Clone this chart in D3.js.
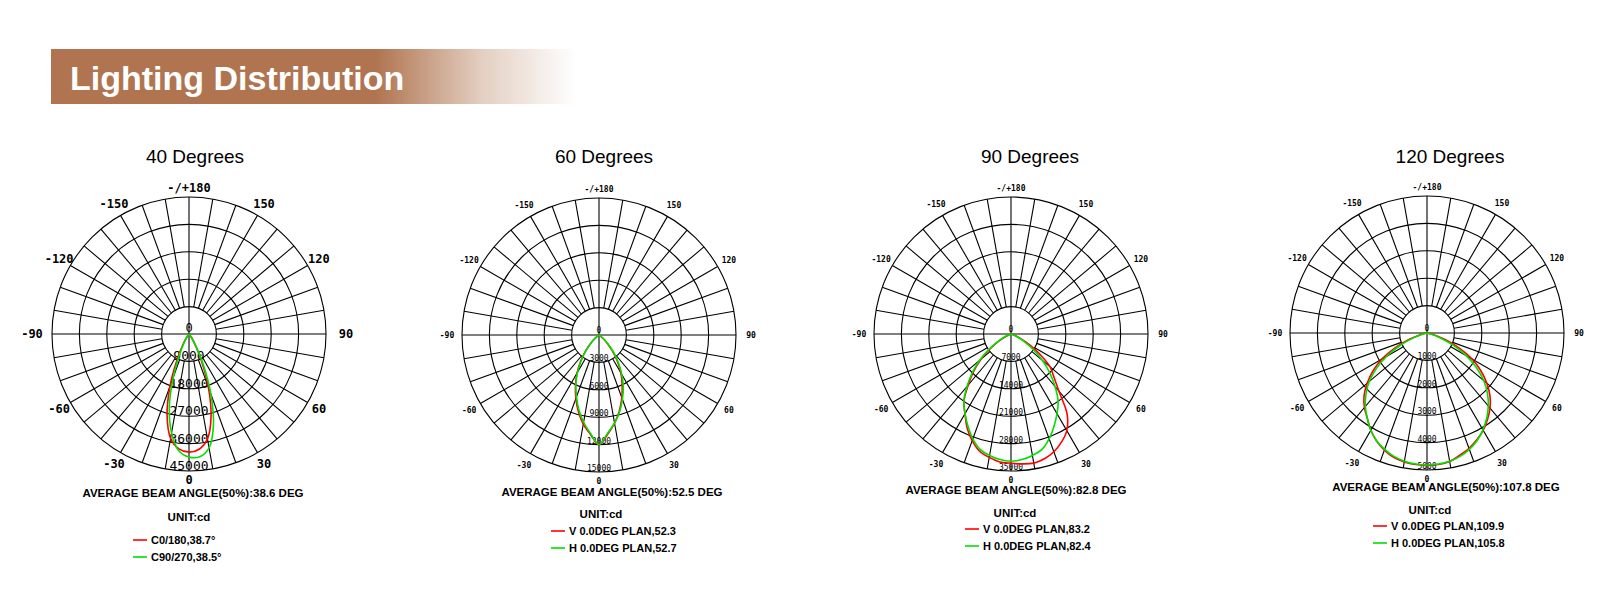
<!DOCTYPE html>
<html><head><meta charset="utf-8">
<script src="https://cdn.jsdelivr.net/npm/d3@7"></script>
<style>body{margin:0;background:#fff}svg{display:block}</style>
</head><body>
<svg id="c" width="1600" height="600"></svg>
<script>
// ---- data ----
const titles = ["40 Degrees","60 Degrees","90 Degrees","120 Degrees"];
const beamTexts = ["AVERAGE BEAM ANGLE(50%):38.6 DEG","AVERAGE BEAM ANGLE(50%):52.5 DEG","AVERAGE BEAM ANGLE(50%):82.8 DEG","AVERAGE BEAM ANGLE(50%):107.8 DEG"];
const redLabels = ["C0/180,38.7°","V 0.0DEG PLAN,52.3","V 0.0DEG PLAN,83.2","V 0.0DEG PLAN,109.9"];
const greenLabels = ["C90/270,38.5°","H 0.0DEG PLAN,52.7","H 0.0DEG PLAN,82.4","H 0.0DEG PLAN,105.8"];
const ringTicks = [
  [9000,18000,27000,36000,45000],
  [3000,6000,9000,12000,15000],
  [7000,14000,21000,28000,35000],
  [1000,2000,3000,4000,5000]
];
const angleTicks = [0,30,60,90,120,150,180,-150,-120,-90,-60,-30];
const angleTickText = ["0","30","60","90","120","150","-/+180","-150","-120","-90","-60","-30"];
const gammas = [-90,-85,-80,-75,-70,-65,-60,-55,-50,-45,-40,-35,-30,-25,-20,-15,-10,-5,0,5,10,15,20,25,30,35,40,45,50,55,60,65,70,75,80,85,90];
const red40   = [0,0,0,0,0,0,0,0,0,0,400,1300,3800,9200,18300,27800,34800,37900,38800,38000,35000,28000,18600,9600,4000,1400,400,0,0,0,0,0,0,0,0,0,0];
const green40 = [0,0,0,0,0,0,0,0,0,0,300,1000,3000,7000,15000,25000,33000,38500,40400,40500,38000,31000,21000,11000,4500,1500,400,0,0,0,0,0,0,0,0,0,0];
const red60   = [0,0,0,0,0,0,0,200,600,1300,2300,3500,4800,6100,7400,8700,9900,10900,12000,10900,9800,8600,7300,6000,4800,3500,2300,1300,600,200,0,0,0,0,0,0,0];
const green60 = [0,0,0,0,0,0,0,150,500,1200,2200,3400,4700,6000,7200,8500,9700,10800,12000,10800,9800,8700,7500,6300,5000,3700,2500,1400,600,200,0,0,0,0,0,0,0];
const red90   = [0,0,0,0,300,1500,3500,6500,10000,13500,17000,21000,23500,26500,29000,31000,32000,32800,33000,33300,33500,33000,32000,30500,28500,25000,19000,15500,13000,9000,5500,2500,800,0,0,0,0];
const green90 = [0,0,0,0,400,1700,4000,7000,10500,14000,17500,21000,23500,26000,28500,30500,31500,32200,32500,32200,31500,30500,28500,26000,23500,21000,17500,14000,10500,7000,4000,1700,400,0,0,0,0];
const red120  = [0,0,80,300,700,1300,1900,2400,2850,3250,3550,3800,4100,4350,4550,4700,4780,4820,4830,4820,4760,4620,4480,4300,4100,3850,3580,3250,2850,2400,1900,1300,700,300,80,0,0];
const green120= [0,0,50,200,550,1100,1700,2250,2750,3150,3500,3800,4100,4350,4520,4660,4750,4800,4820,4800,4750,4660,4520,4330,4080,3800,3480,3120,2700,2200,1650,1050,500,180,40,0,0];
const redSeries = [red40, red60, red90, red120];
const greenSeries = [green40, green60, green90, green120];

// ---- layout ----
const layout = [
  {cx:189, cy:334, tx:195, beamX:193, beamY:497, unitX:189, unitY:521, legX:133, legY:544, big:true},
  {cx:599, cy:335, tx:604, beamX:612, beamY:496, unitX:601, unitY:518, legX:551, legY:535, big:false},
  {cx:1011,cy:334, tx:1030,beamX:1016,beamY:494, unitX:1015,unitY:517, legX:965, legY:533, big:false},
  {cx:1427,cy:333, tx:1450,beamX:1446,beamY:491, unitX:1430,unitY:514, legX:1373,legY:530, big:false}
];
const R = 137;
const svg = d3.select("#c");

// header
const defs = svg.append("defs");
const grad = defs.append("linearGradient").attr("id","hg");
grad.append("stop").attr("offset","0.62").attr("stop-color","#b07550");
grad.append("stop").attr("offset","0.82").attr("stop-color","#b07550").attr("stop-opacity",0.35);
grad.append("stop").attr("offset","1").attr("stop-color","#b07550").attr("stop-opacity",0);
svg.append("rect").attr("x",51).attr("y",49).attr("width",525).attr("height",55).attr("fill","url(#hg)");
svg.append("text").attr("x",70).attr("y",90).attr("fill","#fff").attr("font-family","Liberation Sans, Arial, sans-serif")
  .attr("font-weight","bold").attr("font-size",34).text("Lighting Distribution");

const toRad = g => Math.PI - g*Math.PI/180;

layout.forEach((L,i)=>{
  const g = svg.append("g").attr("transform",`translate(${L.cx},${L.cy})`);
  const ticks = ringTicks[i];
  const r = d3.scaleLinear().domain([0, ticks[ticks.length-1]]).range([0,R]);
  const inner = r(ticks[0]);
  // rings
  g.selectAll("circle.ring").data(ticks).join("circle")
    .attr("r",d=>r(d)).attr("fill","none").attr("stroke","#000").attr("stroke-width",1.1);
  // spokes
  const spokes = d3.range(0,360,10);
  g.selectAll("line.sp").data(spokes).join("line")
    .attr("x1",d=>(d%90===0? 0 : inner)*Math.sin(d*Math.PI/180))
    .attr("y1",d=>-(d%90===0? 0 : inner)*Math.cos(d*Math.PI/180))
    .attr("x2",d=>R*Math.sin(d*Math.PI/180))
    .attr("y2",d=>-R*Math.cos(d*Math.PI/180))
    .attr("stroke","#000").attr("stroke-width",1.1);
  // angle labels
  const af = L.big ? 12 : 8;
  g.selectAll("text.ang").data(angleTicks).join("text")
    .attr("x",(d)=>(R+(Math.abs(d)===90? (L.big?20:15):13))*Math.sin(toRad(d)))
    .attr("y",(d)=>-(R+(d===0||d===180? 9:13))*Math.cos(toRad(d)) + af*0.35)
    .attr("text-anchor","middle").attr("font-family","DejaVu Sans Mono, monospace")
    .attr("font-weight","bold").attr("font-size",af).text((d,j)=>angleTickText[j]);
  // ring labels
  const rf = L.big ? 13 : 8;
  g.selectAll("text.rl").data([0].concat(ticks)).join("text")
    .attr("x",0).attr("y",d=>d===0? -2 : r(d)-1)
    .attr("text-anchor","middle").attr("font-family","DejaVu Sans Mono, monospace")
    .attr("font-size",d=>d===0? (L.big?12:8) : rf).text(d=>d);
  // curves
  const line = d3.lineRadial().angle((d,j)=>toRad(gammas[j])).radius(d=>r(d)).curve(d3.curveCatmullRom);
  g.append("path").attr("d",line(redSeries[i])).attr("fill","none").attr("stroke","#ff0000").attr("stroke-width",1.6);
  g.append("path").attr("d",line(greenSeries[i])).attr("fill","none").attr("stroke","#00e000").attr("stroke-width",1.6);

  // titles and texts
  svg.append("text").attr("x",L.tx).attr("y",163).attr("text-anchor","middle")
    .attr("font-family","Liberation Sans, Arial, sans-serif").attr("font-size",19).text(titles[i]);
  const tf = "Liberation Sans, Arial, sans-serif";
  svg.append("text").attr("x",L.beamX).attr("y",L.beamY).attr("text-anchor","middle").attr("font-family",tf)
    .attr("font-weight","bold").attr("font-size",11.5).text(beamTexts[i]);
  svg.append("text").attr("x",L.unitX).attr("y",L.unitY).attr("text-anchor","middle").attr("font-family",tf)
    .attr("font-weight","bold").attr("font-size",11.5).text("UNIT:cd");
  [[redLabels[i],"#ff0000"],[greenLabels[i],"#00e000"]].forEach((p,k)=>{
    const y = L.legY + k*17;
    svg.append("line").attr("x1",L.legX).attr("x2",L.legX+14).attr("y1",y-4).attr("y2",y-4).attr("stroke",p[1]).attr("stroke-width",1.6);
    svg.append("text").attr("x",L.legX+18).attr("y",y).attr("font-family",tf).attr("font-weight","bold").attr("font-size",11).text(p[0]);
  });
});
</script>
</body></html>
